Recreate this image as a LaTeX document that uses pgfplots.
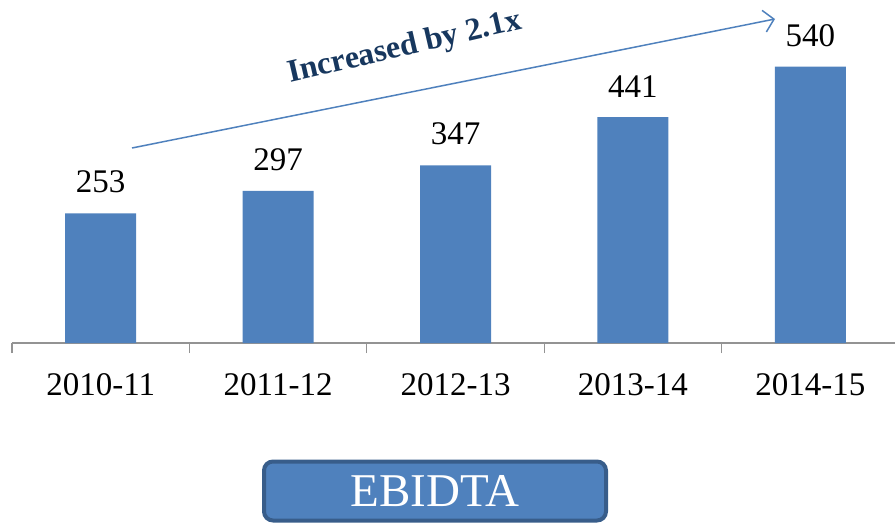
\documentclass[border=0pt]{standalone}
\usepackage{fontspec}
\setmainfont{Liberation Serif}
\usepackage{pgfplots}
\pgfplotsset{compat=1.18}
\usetikzlibrary{arrows.meta}
\definecolor{barblue}{HTML}{4F81BD}
\definecolor{boxborder}{HTML}{385D8A}
\definecolor{navy}{HTML}{17375E}
\begin{document}
\begin{tikzpicture}
\begin{axis}[
  at={(0,0)}, anchor=south west,
  scale only axis, width=883pt, height=343pt,
  xmin=-0.5, xmax=4.477, ymin=0, ymax=670,
  /pgf/number format/assume math mode=true,
  axis x line*=bottom, axis y line=none,
  x axis line style={draw=gray!85, line width=1.2pt, -},
  xtick={0,1,2,3,4},
  xticklabels={2010-11,2011-12,2012-13,2013-14,2014-15},
  major tick length=0pt,
  tick align=outside,
  extra x ticks={-0.5,0.5,1.5,2.5,3.5},
  extra x tick labels={,,,,},
  extra x tick style={major tick length=10pt, tick style={draw=gray!85, line width=1.2pt}},
  ytick=\empty,
  xticklabel style={font=\fontsize{33}{33}\selectfont, inner sep=0pt, anchor=north, yshift=-30pt},
  ybar, bar width=71pt,
  nodes near coords,
  nodes near coords style={font=\fontsize{33}{33}\selectfont, inner sep=0pt, anchor=south, yshift=20pt, text=black},
  clip=false,
]
\addplot[fill=barblue, draw=none] coordinates {(0,253) (1,297) (2,347) (3,441) (4,540)};
\end{axis}
% annotation arrow
\draw[barblue, line width=1.5pt, -{Straight Barb[length=10pt,width=22pt]}] (120pt,195pt) -- (763pt,324pt);
\node[rotate=13, text=navy, font=\bfseries\fontsize{32}{32}\selectfont, inner sep=0pt] at (393pt,295pt) {Increased by 2.1x};
% EBIDTA box
\node[draw=boxborder, line width=4pt, fill=barblue, rounded corners=9pt, minimum width=342pt, minimum height=59pt, inner sep=0pt, text=white, font=\fontsize{47}{47}\selectfont] at (423pt,-148pt) {EBIDTA};
\pgfresetboundingbox
\path[use as bounding box] (-12pt,-180pt) rectangle (883pt,343pt);
\end{tikzpicture}
\end{document}
